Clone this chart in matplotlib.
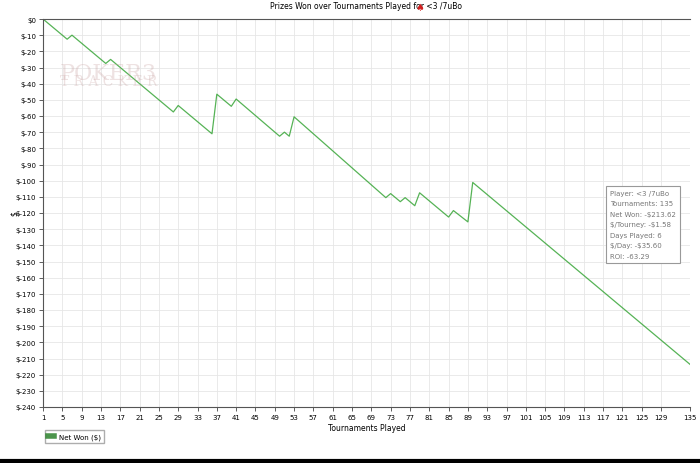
import matplotlib.pyplot as plt
import numpy as np

plt.rcParams['text.parse_math'] = False

# breakpoints of the cumulative net-won line (tourney number, $)
tourney = [1, 6, 7, 14, 15, 28, 29, 36, 37, 40, 41, 50, 51, 52, 53,
           72, 73, 75, 76, 78, 79, 85, 86, 89, 90, 135]
net_won = [0, -12.5, -10, -27.5, -25, -57.5, -53.5, -71, -46.5, -54, -49.5,
           -72.5, -70, -72.5, -60.5, -110.5, -108, -113, -110.5, -115.5, -107.5,
           -122.5, -118.5, -125.5, -101.1, -213.62]

x_ticks = list(range(1, 133, 4)) + [135]
y_ticks = list(range(0, -250, -10))
stats = ["Player: <3 /7uBo", "Tournaments: 135", "Net Won: -$213.62",
         "$/Tourney: -$1.58", "Days Played: 6", "$/Day: -$35.60", "ROI: -63.29"]

fig = plt.figure(figsize=(7, 4.64), dpi=100)
ax = fig.add_axes([43/700, 1 - 408/464, 647/700, 388/464])

ax.plot(tourney, net_won, color='#2ca02c', lw=0.9, alpha=0.8, label="Net Won ($)")
ax.set_xlim(1, 135)
ax.set_ylim(-240, 0)
ax.set_xticks(x_ticks)
ax.set_yticks(y_ticks)
ax.set_yticklabels(["$0"] + ["$%d" % v for v in y_ticks[1:]])
ax.tick_params(labelsize=5, length=3, color='#444444', width=0.6, pad=2)
ax.grid(True, color='#e6e6e6', lw=0.6)
for s in ['left', 'bottom', 'top']:
    ax.spines[s].set_color('#555555')
    ax.spines[s].set_linewidth(0.8)
ax.spines['right'].set_visible(False)

ax.set_title("Prizes Won over Tournaments Played for <3 /7uBo", fontsize=5.5, pad=8)
fig.text(0.593, 0.982, "\u2660", color='#d02020', fontsize=7, va='center')
ax.set_xlabel("Tournaments Played", fontsize=5.5, labelpad=2)
fig.text(14/700, 1 - 214/464, "$", fontsize=5.5, rotation=90, va='center', ha='center')

# faint watermark
fig.text(60/700, 1 - 80/464, "POKER3", fontsize=16, color='#c8a0a0', alpha=0.3,
         family='DejaVu Serif')
fig.text(60/700, 1 - 75/464, "T R A C K E R", fontsize=10, color='#c8a0a0', alpha=0.3,
         family='DejaVu Serif', va='top')

ax.text(0.876, 0.56, "\n".join(stats), transform=ax.transAxes, fontsize=5,
        color='#777777', va='top', linespacing=1.9,
        bbox=dict(facecolor='white', edgecolor='#999999', lw=0.8, pad=3))

leg = fig.legend(loc='upper left', bbox_to_anchor=(42/700, 1 - 428/464),
                 fontsize=5, handlelength=0.8, handleheight=0.8, fancybox=False,
                 edgecolor='#999999')
leg.legend_handles[0].set_linewidth(4)
leg.legend_handles[0].set_color('#1e7a1e')

fig.add_artist(plt.Line2D([0, 1], [0.004, 0.004], color='black', lw=3))
fig.savefig("out.png", dpi=100)
